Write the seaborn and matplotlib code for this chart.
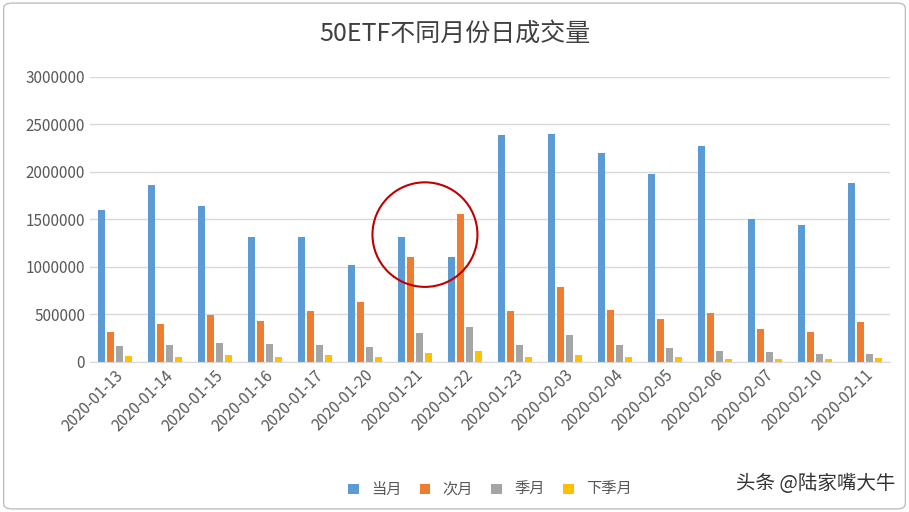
import matplotlib
matplotlib.use("Agg")
import matplotlib.pyplot as plt
import pandas as pd
import seaborn as sns
from matplotlib.patches import Ellipse, FancyBboxPatch

plt.rcParams["font.family"] = ["Noto Sans CJK SC", "DejaVu Sans"]

dates = ["2020-01-13", "2020-01-14", "2020-01-15", "2020-01-16", "2020-01-17",
         "2020-01-20", "2020-01-21", "2020-01-22", "2020-01-23", "2020-02-03",
         "2020-02-04", "2020-02-05", "2020-02-06", "2020-02-07", "2020-02-10",
         "2020-02-11"]
series = ["当月", "次月", "季月", "下季月"]
dangyue = [1600000, 1860000, 1640000, 1320000, 1310000, 1020000, 1310000, 1100000,
           2390000, 2400000, 2200000, 1980000, 2270000, 1500000, 1440000, 1880000]
ciyue = [320000, 400000, 490000, 430000, 540000, 630000, 1100000, 1560000,
         540000, 790000, 550000, 450000, 520000, 350000, 320000, 420000]
jiyue = [170000, 180000, 200000, 190000, 180000, 160000, 310000, 370000,
         180000, 280000, 180000, 150000, 120000, 100000, 80000, 80000]
xiajiyue = [60000, 50000, 70000, 50000, 70000, 50000, 90000, 120000,
            50000, 70000, 50000, 50000, 30000, 30000, 30000, 40000]
colors = ["#5B9BD5", "#ED7D31", "#A5A5A5", "#FFC000"]

df = pd.DataFrame({"date": dates, "当月": dangyue, "次月": ciyue,
                   "季月": jiyue, "下季月": xiajiyue})
long = df.melt(id_vars="date", var_name="series", value_name="volume")

fig = plt.figure(figsize=(9.09, 5.12), dpi=100)
ax = fig.add_axes([0.099, 0.293, 0.88, 0.557])
sns.barplot(data=long, x="date", y="volume", hue="series", hue_order=series,
            palette=colors, saturation=1, width=0.72, gap=0.25, ax=ax)

ax.set_ylim(0, 3000000)
ax.set_yticks(range(0, 3000001, 500000))
ax.set_yticklabels([str(v) for v in range(0, 3000001, 500000)])
ax.yaxis.grid(True, color="#D9D9D9", linewidth=1)
ax.set_axisbelow(True)
for s in ["top", "right", "left"]:
    ax.spines[s].set_visible(False)
ax.spines["bottom"].set_color("#D9D9D9")
ax.tick_params(axis="both", length=0, labelsize=11, colors="#595959")
ax.set_xticks(range(len(dates)))
ax.set_xticklabels(dates, rotation=45, ha="right", rotation_mode="anchor")
ax.set_xlabel("")
ax.set_ylabel("")
ax.set_xlim(-0.5, len(dates) - 0.5)

ax.add_patch(Ellipse((6.2, 1340000), 2.1, 1100000, fill=False,
                     edgecolor="#C00000", linewidth=1.5))

ax.legend(loc="upper center", bbox_to_anchor=(0.5, -0.37), ncol=4, frameon=False,
          fontsize=11, handlelength=0.7, handleheight=0.7, columnspacing=1.2,
          labelcolor="#595959")

fig.text(0.5, 0.935, "50ETF不同月份日成交量", ha="center", va="center",
         fontsize=18, color="#404040")
fig.text(0.985, 0.055, "头条 @陆家嘴大牛", ha="right", va="center",
         fontsize=14, color="#333333")
fig.patches.append(FancyBboxPatch((0.004, 0.006), 0.992, 0.988,
                                  boxstyle="round,pad=0,rounding_size=0.01",
                                  transform=fig.transFigure, fill=False,
                                  edgecolor="#BFBFBF", linewidth=1))

fig.savefig("out.png", dpi=100)
